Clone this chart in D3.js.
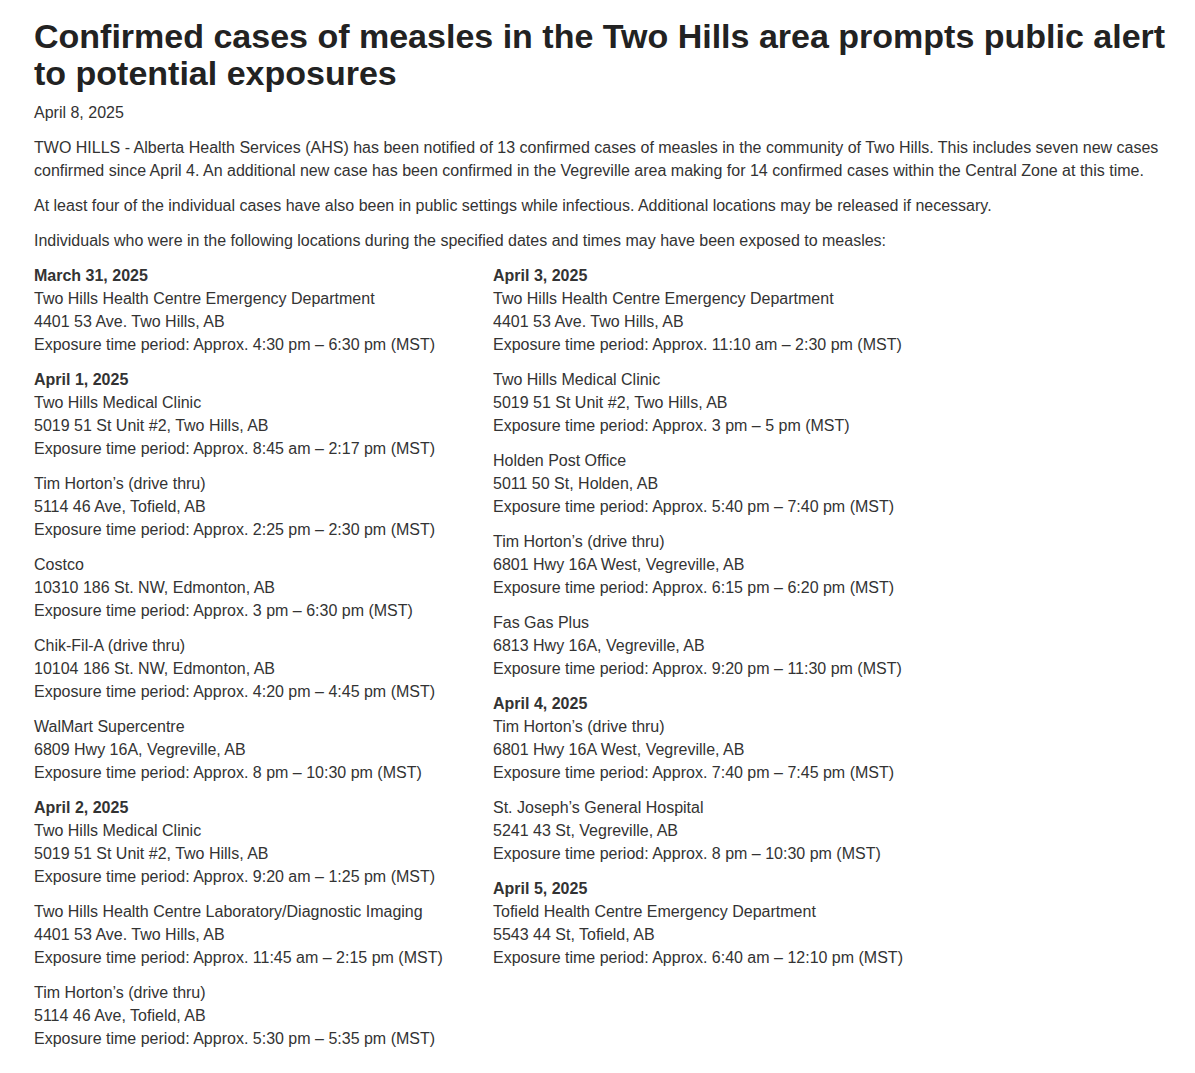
<!DOCTYPE html>
<html><head><meta charset="utf-8">
<script src="https://cdn.jsdelivr.net/npm/d3@7"></script>
<style>
body{margin:0;background:#fff;font-family:"Liberation Sans",Arial,sans-serif;color:#333;}
#page{position:absolute;left:34px;top:18px;width:1150px;}
h1{font-size:34px;line-height:37px;margin:0 0 9px 0;font-weight:bold;color:#222;}
p{font-size:16px;line-height:23px;margin:0 0 12px 0;}
.cols{display:flex;}
.col{width:459px;}
.blk{font-size:16px;line-height:23px;margin-bottom:12px;}
.d{font-weight:bold;}
</style></head><body><div id="page"></div>
<script>
const title = "Confirmed cases of measles in the Two Hills area prompts public alert to potential exposures";
const paragraphs = [
 "April 8, 2025",
 "TWO HILLS - Alberta Health Services (AHS) has been notified of 13 confirmed cases of measles in the community of Two Hills. This includes seven new cases confirmed since April 4. An additional new case has been confirmed in the Vegreville area making for 14 confirmed cases within the Central Zone at this time.",
 "At least four of the individual cases have also been in public settings while infectious. Additional locations may be released if necessary.",
 "Individuals who were in the following locations during the specified dates and times may have been exposed to measles:"
];
const column1 = [
 ["March 31, 2025","Two Hills Health Centre Emergency Department","4401 53 Ave. Two Hills, AB","4:30 pm – 6:30 pm"],
 ["April 1, 2025","Two Hills Medical Clinic","5019 51 St Unit #2, Two Hills, AB","8:45 am – 2:17 pm"],
 [null,"Tim Horton’s (drive thru)","5114 46 Ave, Tofield, AB","2:25 pm – 2:30 pm"],
 [null,"Costco","10310 186 St. NW, Edmonton, AB","3 pm – 6:30 pm"],
 [null,"Chik-Fil-A (drive thru)","10104 186 St. NW, Edmonton, AB","4:20 pm – 4:45 pm"],
 [null,"WalMart Supercentre","6809 Hwy 16A, Vegreville, AB","8 pm – 10:30 pm"],
 ["April 2, 2025","Two Hills Medical Clinic","5019 51 St Unit #2, Two Hills, AB","9:20 am – 1:25 pm"],
 [null,"Two Hills Health Centre Laboratory/Diagnostic Imaging","4401 53 Ave. Two Hills, AB","11:45 am – 2:15 pm"],
 [null,"Tim Horton’s (drive thru)","5114 46 Ave, Tofield, AB","5:30 pm – 5:35 pm"]
];
const column2 = [
 ["April 3, 2025","Two Hills Health Centre Emergency Department","4401 53 Ave. Two Hills, AB","11:10 am – 2:30 pm"],
 [null,"Two Hills Medical Clinic","5019 51 St Unit #2, Two Hills, AB","3 pm – 5 pm"],
 [null,"Holden Post Office","5011 50 St, Holden, AB","5:40 pm – 7:40 pm"],
 [null,"Tim Horton’s (drive thru)","6801 Hwy 16A West, Vegreville, AB","6:15 pm – 6:20 pm"],
 [null,"Fas Gas Plus","6813 Hwy 16A, Vegreville, AB","9:20 pm – 11:30 pm"],
 ["April 4, 2025","Tim Horton’s (drive thru)","6801 Hwy 16A West, Vegreville, AB","7:40 pm – 7:45 pm"],
 [null,"St. Joseph’s General Hospital","5241 43 St, Vegreville, AB","8 pm – 10:30 pm"],
 ["April 5, 2025","Tofield Health Centre Emergency Department","5543 44 St, Tofield, AB","6:40 am – 12:10 pm"]
];
const page = d3.select("#page");
page.append("h1").text(title);
page.selectAll("p").data(paragraphs).join("p").text(d=>d);
const cols = page.append("div").attr("class","cols");
[column1,column2].forEach(c=>{
  const col = cols.append("div").attr("class","col");
  const b = col.selectAll(".blk").data(c).join("div").attr("class","blk");
  b.each(function(d){
    const s=d3.select(this);
    if(d[0]) s.append("div").attr("class","d").text(d[0]);
    s.append("div").text(d[1]);
    s.append("div").text(d[2]);
    s.append("div").text("Exposure time period: Approx. "+d[3]+" (MST)");
  });
});
</script></body></html>
